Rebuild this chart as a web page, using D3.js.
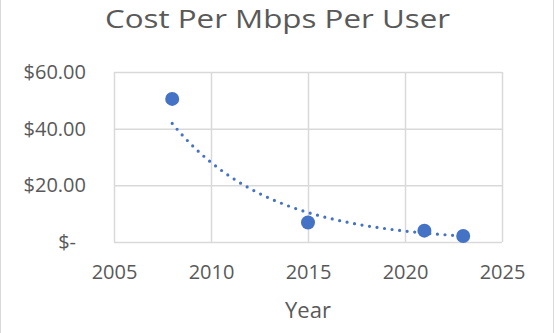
<!DOCTYPE html>
<html>
<head>
<meta charset="utf-8">
<script src="https://cdn.jsdelivr.net/npm/d3@7"></script>
<style>
  html, body { margin: 0; padding: 0; background: #fff; }
  svg { display: block; font-family: "Open Sans", "Liberation Sans", sans-serif; }
</style>
</head>
<body>
<svg id="chart" width="555" height="333"></svg>
<script>
const years = [2008, 2015, 2021, 2023];
const costs = [50.5, 6.9, 4.0, 2.1];
const xTicks = [2005, 2010, 2015, 2020, 2025];
const yTicks = [0, 20, 40, 60];
const yTickLabels = ["$-", "$20.00", "$40.00", "$60.00"];
const title = "Cost Per Mbps Per User";
const xTitle = "Year";

const svg = d3.select("#chart");
const W = 555, H = 333;
const grey = "#595959", grid = "#D9D9D9", blue = "#4472C4";

// chart border (left/right visible)
svg.append("line").attr("x1", 0.5).attr("x2", 0.5).attr("y1", 0).attr("y2", H).attr("stroke", grid).attr("stroke-width", 1);
svg.append("line").attr("x1", 553.5).attr("x2", 553.5).attr("y1", 0).attr("y2", H).attr("stroke", grid).attr("stroke-width", 1);

const x = d3.scaleLinear().domain([2005, 2025]).range([114, 502]);
const y = d3.scaleLinear().domain([0, 60]).range([242, 72]);

// gridlines
const gx = svg.append("g").attr("transform", "translate(0,242)")
  .call(d3.axisBottom(x).tickValues(xTicks).tickSize(-170).tickFormat(d3.format("d")).tickPadding(23));
gx.select(".domain").remove();
gx.selectAll(".tick line").attr("stroke", grid).attr("stroke-width", 1.5);
gx.selectAll(".tick text").attr("fill", grey).attr("font-size", 20).attr("font-family", "Open Sans");

const gy = svg.append("g").attr("transform", "translate(114,0)")
  .call(d3.axisLeft(y).tickValues(yTicks).tickSize(-388).tickFormat((d, i) => yTickLabels[i]).tickPadding(28));
gy.select(".domain").remove();
gy.selectAll(".tick line").attr("stroke", grid).attr("stroke-width", 1.5);
gy.selectAll(".tick text").attr("fill", grey).attr("font-size", 20).attr("font-family", "Open Sans")
  .attr("dx", (d) => d === 0 ? -10 : 0);

// exponential trendline (least squares on ln y), like Excel
const n = years.length;
const lx = years, ly = costs.map(Math.log);
const mx = d3.mean(lx), my = d3.mean(ly);
const b = d3.sum(lx.map((v, i) => (v - mx) * (ly[i] - my))) / d3.sum(lx.map(v => (v - mx) ** 2));
const a = my - b * mx;
const tx = d3.range(0, 201).map(i => years[0] + (years[n - 1] - years[0]) * i / 200);
const line = d3.line().x(d => x(d)).y(d => y(Math.exp(a + b * d)));
svg.append("path").datum(tx).attr("d", line)
  .attr("fill", "none").attr("stroke", blue).attr("stroke-width", 3.2)
  .attr("stroke-linecap", "round").attr("stroke-dasharray", "0 7.6");

// markers
svg.append("g").selectAll("circle").data(years).join("circle")
  .attr("cx", d => x(d)).attr("cy", (d, i) => y(costs[i])).attr("r", 7).attr("fill", blue);

// title
svg.append("text").attr("x", 277.5).attr("y", 27.5).attr("text-anchor", "middle")
  .attr("fill", grey).attr("font-size", 25.5).attr("font-family", "Open Sans")
  .attr("textLength", 345).attr("lengthAdjust", "spacingAndGlyphs").text(title);

// x axis title
svg.append("text").attr("x", 308).attr("y", 318).attr("text-anchor", "middle")
  .attr("fill", grey).attr("font-size", 22).attr("font-family", "Open Sans").text(xTitle);
</script>
</body>
</html>
